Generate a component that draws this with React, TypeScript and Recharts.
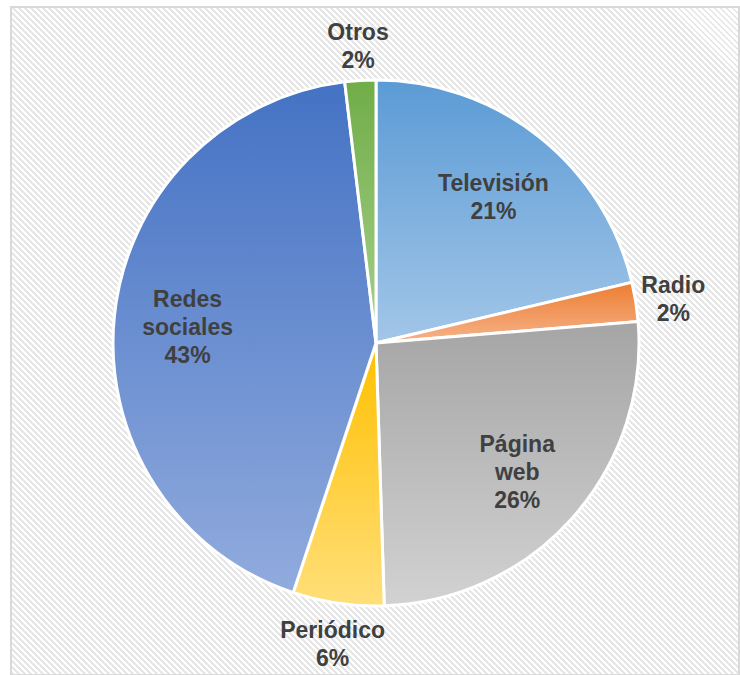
import { PieChart, Pie, Cell } from "recharts";

const categories = ["Televisión", "Radio", "Página web", "Periódico", "Redes sociales", "Otros"];
const shares = [21.3, 2.4, 25.8, 5.6, 43.0, 1.9];
const topColors = ["#5b9bd5", "#ed7d31", "#a5a5a5", "#ffc000", "#4472c4", "#70ad47"];
const bottomColors = ["#a3c6e8", "#f6b38a", "#d2d2d2", "#ffdf7a", "#91abdd", "#a8d08d"];

const data = categories.map((name, i) => ({ name, value: shares[i] }));

const RADIAN = Math.PI / 180;

function SliceLabel(props: any) {
  const { cx, cy, midAngle, outerRadius, percent, name } = props;
  const outside = percent < 0.07;
  const r = outside ? outerRadius + 38 : outerRadius * 0.72;
  const x = cx + r * Math.cos(-midAngle * RADIAN);
  const y = cy + r * Math.sin(-midAngle * RADIAN) + 3;
  const lines = [...String(name).split(" "), `${Math.round(percent * 100)}%`];
  const lh = 28;
  const y0 = y - ((lines.length - 1) * lh) / 2;
  return (
    <text
      x={x}
      y={y0}
      textAnchor="middle"
      fill="#404040"
      style={{ fontFamily: "'Liberation Sans', Arial, sans-serif", fontWeight: 700, fontSize: 23 }}
    >
      {lines.map((l, i) => (
        <tspan key={i} x={x} y={y0 + i * lh} dominantBaseline="central">
          {l}
        </tspan>
      ))}
    </text>
  );
}

export default function App() {
  return (
    <div style={{ position: "absolute", left: 0, top: 0, width: 740, height: 675, background: "#fff" }}>
      <svg width={0} height={0} style={{ position: "absolute" }}>
        <defs>
          {topColors.map((c, i) => (
            <linearGradient key={i} id={`grad${i}`} x1="0" y1="0" x2="0" y2="1">
              <stop offset="0%" stopColor={c} />
              <stop offset="100%" stopColor={bottomColors[i]} />
            </linearGradient>
          ))}
        </defs>
      </svg>
      <div
        style={{
          position: "absolute",
          left: 10,
          top: 6,
          width: 726,
          height: 666,
          border: "2px solid #d9d9d9",
          background: "repeating-linear-gradient(45deg, #e6e6e6 0px, #e6e6e6 2px, #ffffff 2px, #ffffff 4.24px)",
        }}
      />
      <div style={{ position: "absolute", left: 0, top: 0 }}>
        <PieChart width={740} height={675} margin={{ top: 0, right: 0, bottom: 0, left: 0 }}>
          <Pie
            data={data}
            dataKey="value"
            nameKey="name"
            cx={376}
            cy={343}
            outerRadius={263}
            startAngle={90}
            endAngle={-270}
            label={SliceLabel}
            labelLine={false}
            isAnimationActive={false}
          >
            {data.map((d, i) => (
              <Cell key={d.name} fill={`url(#grad${i})`} stroke="#ffffff" strokeWidth={3} />
            ))}
          </Pie>
        </PieChart>
      </div>
    </div>
  );
}
